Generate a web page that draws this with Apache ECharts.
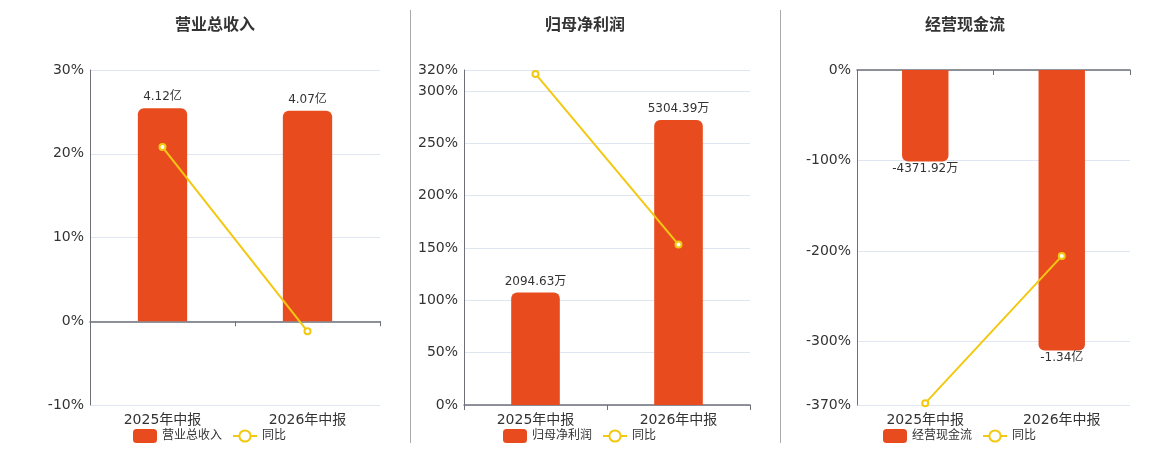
<!DOCTYPE html>
<html>
<head>
<meta charset="utf-8">
<script src="https://cdn.jsdelivr.net/npm/echarts@6/dist/echarts.min.js"></script>
<style>
html,body{margin:0;padding:0;background:#fff;}
#c{width:1160px;height:450px;}
</style>
</head>
<body>
<div id="c"></div>
<script>
// ---- data ----
var categories = ['2025年中报', '2026年中报'];
var titles = ['营业总收入', '归母净利润', '经营现金流'];
var yoyName = '同比';
// chart 1: 营业总收入 (亿)
var revenueValues = [4.12, 4.07];
var revenueLabels = ['4.12亿', '4.07亿'];
var revenueYoy = [20.8, -1.2];
// chart 2: 归母净利润 (万)
var profitValues = [2094.63, 5304.39];
var profitLabels = ['2094.63万', '5304.39万'];
var profitYoy = [316.2, 153.2];
// chart 3: 经营现金流 (万)
var cashValues = [-4371.92, -13400];
var cashLabels = ['-4371.92万', '-1.34亿'];
var cashYoy = [-368, -205.5];
// percentage axis tick labels
var pctTicks1 = [-10, 0, 10, 20, 30];
var pctTicks2 = [0, 50, 100, 150, 200, 250, 300, 320];
var pctTicks3 = [-370, -300, -200, -100, 0];
var pctTicks = [pctTicks1, pctTicks2, pctTicks3];
var barAxes = [
  {min: -1.62, max: 4.86},
  {min: 0, max: 6235},
  {min: -16000, max: 0}
];

var barColor = '#E84C1E';
var lineColor = '#F2C811';
var font = "'DejaVu Sans','Noto Sans CJK SC',sans-serif";

var grids = [
  {left: 90, width: 290, top: 70, height: 335},
  {left: 464, width: 286, top: 70, height: 335},
  {left: 857, width: 273, top: 70, height: 335}
];
var centers = [210, 580, 960];
var legendLeft = [128, 498, 878];

var barSets = [
  {v: revenueValues, l: revenueLabels, y: revenueYoy},
  {v: profitValues, l: profitLabels, y: profitYoy},
  {v: cashValues, l: cashLabels, y: cashYoy}
];

var option = {
  animation: false,
  textStyle: {fontFamily: font},
  title: [], legend: [], grid: [], xAxis: [], yAxis: [], series: [],
  graphic: [
    {type: 'line', shape: {x1: 410.5, y1: 10, x2: 410.5, y2: 443}, style: {stroke: '#aaaaaa', lineWidth: 1}},
    {type: 'line', shape: {x1: 780.5, y1: 10, x2: 780.5, y2: 443}, style: {stroke: '#aaaaaa', lineWidth: 1}}
  ]
};

for (var i = 0; i < 3; i++) {
  var ticks = pctTicks[i];
  option.title.push({
    text: titles[i], left: centers[i], top: 13, textAlign: 'center',
    textStyle: {fontSize: 16, fontWeight: 'bold', color: '#333', fontFamily: font}
  });
  option.legend.push({
    left: legendLeft[i], top: 424, itemWidth: 24, itemHeight: 14, itemGap: 10,
    textStyle: {fontSize: 12, color: '#333', fontFamily: font},
    data: [{name: titles[i], icon: 'roundRect'}, {name: yoyName}]
  });
  option.grid.push(grids[i]);
  // label x axis (bottom)
  option.xAxis.push({
    type: 'category', gridIndex: i, data: categories, position: 'bottom',
    axisLine: {show: false, onZero: false}, axisTick: {show: false},
    axisLabel: {fontSize: 14, color: '#333', margin: 8, fontFamily: font}
  });
  // zero-line x axis
  option.xAxis.push({
    type: 'category', gridIndex: i, data: categories, position: 'bottom',
    axisLine: {show: true, onZero: true, lineStyle: {color: '#6E7079', width: 1.5}},
    axisTick: {show: true, length: 5, lineStyle: {color: '#6E7079'}},
    axisLabel: {show: false}
  });
  option.yAxis.push({
    type: 'value', gridIndex: i, min: ticks[0], max: ticks[ticks.length - 1],
    axisLine: {show: true, lineStyle: {color: '#6E7079', width: 1}},
    axisTick: {show: false, customValues: ticks},
    axisLabel: {formatter: '{value}%', fontSize: 14, color: '#333', margin: 6, fontFamily: font, customValues: ticks},
    splitLine: {show: true, lineStyle: {color: '#E0E6F1'}}
  });
  option.yAxis.push({
    type: 'value', gridIndex: i, min: barAxes[i].min, max: barAxes[i].max, show: false,
    splitLine: {show: false}
  });
  (function (set) {
    var neg = set.v[0] < 0;
    option.series.push({
      name: titles[i], type: 'bar', xAxisIndex: 2 * i + 1, yAxisIndex: 2 * i + 1,
      data: set.v, barWidth: '34%',
      itemStyle: {color: barColor, borderRadius: neg ? [0, 0, 6, 6] : [6, 6, 0, 0]},
      label: {
        show: true, position: neg ? 'bottom' : 'top', distance: neg ? 1 : 5,
        fontSize: 12, color: '#333', fontFamily: font,
        formatter: function (p) { return set.l[p.dataIndex]; }
      }
    });
    option.series.push({
      name: yoyName, type: 'line', xAxisIndex: 2 * i + 1, yAxisIndex: 2 * i,
      data: set.y, symbol: 'circle', symbolSize: 6,
      lineStyle: {color: lineColor, width: 2},
      itemStyle: {color: '#fff', borderColor: lineColor, borderWidth: 2},
      z: 5
    });
  })(barSets[i]);
}

var chart = echarts.init(document.getElementById('c'));
chart.setOption(option);
</script>
</body>
</html>
